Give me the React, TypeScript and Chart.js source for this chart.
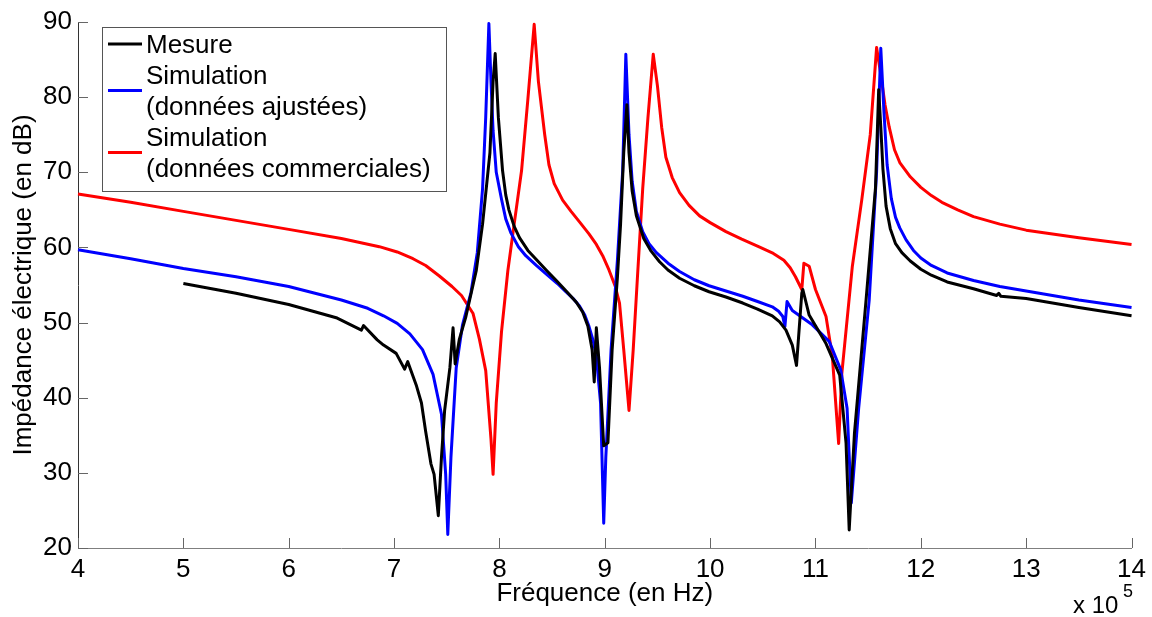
import React, { useEffect, useRef } from "react";
import { Chart, registerables } from "chart.js";

Chart.register(...registerables);

// Frequencies in units of 10^5 Hz, impedances in dB
const freqMesure = [5, 5.5, 6, 6.46, 6.69, 6.71, 6.84, 6.9, 7.02, 7.1, 7.13, 7.21, 7.26, 7.3, 7.35, 7.38, 7.42, 7.45, 7.48, 7.53, 7.56, 7.58, 7.62, 7.68, 7.78, 7.84, 7.91, 7.94, 7.96, 7.99, 8.03, 8.06, 8.09, 8.14, 8.19, 8.27, 8.35, 8.45, 8.54, 8.64, 8.73, 8.79, 8.84, 8.88, 8.9, 8.92, 8.95, 8.99, 9.03, 9.07, 9.12, 9.15, 9.18, 9.21, 9.23, 9.26, 9.3, 9.37, 9.44, 9.52, 9.6, 9.71, 9.85, 9.99, 10.15, 10.31, 10.45, 10.59, 10.66, 10.72, 10.78, 10.82, 10.87, 10.88, 10.94, 11.1, 11.23, 11.29, 11.32, 11.37, 11.48, 11.57, 11.6, 11.62, 11.64, 11.67, 11.71, 11.76, 11.82, 11.9, 12, 12.1, 12.25, 12.5, 12.72, 12.74, 12.76, 13, 13.5, 14];
const dbMesure = [55.2, 53.9, 52.4, 50.6, 49.0, 49.6, 47.7, 47.0, 45.9, 43.8, 44.8, 41.7, 39.3, 35.5, 31.2, 29.8, 24.3, 32.1, 38.3, 44.0, 49.3, 44.5, 47.8, 50.7, 56.9, 63.1, 72.6, 82.1, 85.8, 77.3, 70.2, 67.0, 65.0, 62.8, 61.3, 59.6, 58.4, 56.9, 55.6, 54.1, 52.7, 51.4, 49.5, 46.4, 42.1, 49.3, 44.0, 33.6, 34.0, 46.4, 56.0, 63.1, 72.6, 79.0, 72.6, 67.5, 64.2, 61.2, 59.5, 58.1, 57.0, 55.9, 54.9, 54.1, 53.4, 52.6, 51.8, 50.9, 50.1, 49.0, 47.0, 44.3, 53.9, 54.4, 51.0, 47.2, 43.0, 34.0, 22.4, 35.3, 53.0, 68.0, 81.0, 76.0, 70.5, 65.5, 62.5, 60.5, 59.3, 58.2, 57.1, 56.3, 55.4, 54.5, 53.6, 53.9, 53.5, 53.2, 52.0, 50.9];

const freqAjustee = [4, 4.5, 5, 5.5, 6, 6.5, 6.75, 6.9, 7.03, 7.15, 7.27, 7.37, 7.45, 7.49, 7.51, 7.54, 7.59, 7.65, 7.73, 7.79, 7.84, 7.87, 7.9, 7.92, 7.94, 7.97, 8.02, 8.06, 8.11, 8.18, 8.25, 8.35, 8.44, 8.55, 8.63, 8.7, 8.76, 8.81, 8.85, 8.89, 8.92, 8.96, 8.99, 9.01, 9.06, 9.12, 9.17, 9.2, 9.23, 9.26, 9.3, 9.36, 9.42, 9.49, 9.6, 9.71, 9.85, 9.99, 10.15, 10.31, 10.45, 10.59, 10.65, 10.69, 10.71, 10.73, 10.78, 10.97, 11.13, 11.24, 11.3, 11.34, 11.41, 11.51, 11.58, 11.62, 11.65, 11.68, 11.72, 11.76, 11.8, 11.86, 11.93, 12, 12.1, 12.25, 12.5, 12.75, 13, 13.5, 14];
const dbAjustee = [59.7, 58.5, 57.2, 56.1, 54.8, 53.0, 51.9, 50.9, 49.9, 48.5, 46.4, 43.1, 37.8, 29.8, 21.8, 32.1, 44.0, 49.7, 54.0, 59.3, 67.8, 77.3, 89.8, 82.1, 75.5, 70.0, 66.4, 63.8, 61.9, 60.1, 58.9, 57.6, 56.5, 55.2, 54.1, 53.2, 52.2, 51.0, 49.5, 47.6, 45.5, 39.3, 23.3, 32.1, 46.4, 58.3, 70.2, 85.7, 75.0, 68.8, 64.8, 62.1, 60.5, 59.3, 57.9, 56.8, 55.7, 54.9, 54.2, 53.5, 52.8, 52.1, 51.5, 50.8, 49.5, 52.8, 51.6, 49.7, 47.5, 43.7, 38.6, 26.0, 38.6, 53.0, 70.0, 86.5, 78.0, 71.0, 66.5, 64.0, 62.6, 61.0, 59.6, 58.6, 57.6, 56.6, 55.6, 54.8, 54.2, 53.0, 52.0];

const freqCommerciale = [4, 4.5, 5, 5.5, 6, 6.5, 6.86, 7.03, 7.18, 7.3, 7.43, 7.55, 7.64, 7.75, 7.81, 7.87, 7.92, 7.94, 7.97, 8.02, 8.08, 8.14, 8.21, 8.27, 8.33, 8.37, 8.43, 8.47, 8.52, 8.6, 8.68, 8.76, 8.85, 8.92, 8.98, 9.04, 9.1, 9.14, 9.18, 9.23, 9.27, 9.31, 9.36, 9.41, 9.46, 9.5, 9.54, 9.58, 9.64, 9.71, 9.8, 9.9, 10.0, 10.15, 10.3, 10.46, 10.6, 10.7, 10.76, 10.81, 10.87, 10.89, 10.94, 11.0, 11.1, 11.16, 11.22, 11.25, 11.35, 11.44, 11.52, 11.58, 11.62, 11.66, 11.7, 11.75, 11.8, 11.9, 12, 12.1, 12.2, 12.35, 12.5, 12.75, 13, 13.5, 14];
const dbCommerciale = [67.1, 66.0, 64.8, 63.6, 62.4, 61.2, 60.1, 59.4, 58.5, 57.6, 56.2, 54.8, 53.6, 51.2, 47.8, 43.6, 34.5, 29.8, 39.3, 48.8, 56.9, 63.1, 70.2, 79.7, 89.7, 82.1, 75.0, 71.0, 68.5, 66.3, 64.8, 63.4, 61.8, 60.4, 58.9, 57.0, 54.8, 52.6, 46.4, 38.3, 46.4, 56.0, 67.8, 77.3, 85.7, 81.5, 76.0, 72.0, 69.3, 67.3, 65.6, 64.2, 63.3, 62.1, 61.1, 60.1, 59.2, 58.3, 57.3, 56.1, 54.4, 57.9, 57.5, 54.4, 50.8, 45.5, 33.9, 43.2, 57.5, 66.4, 75.0, 86.6, 83.0, 79.0, 76.0, 73.0, 71.3, 69.4, 68.0, 66.9, 66.0, 65.0, 64.1, 63.1, 62.3, 61.3, 60.4];

const xTicks = [4, 5, 6, 7, 8, 9, 10, 11, 12, 13, 14];
const yTicks = [20, 30, 40, 50, 60, 70, 80, 90];

const seriesLabels = ["Mesure", "Simulation\n(données ajustées)", "Simulation\n(données commerciales)"];
const seriesColors = ["#000000", "#0000ff", "#ff0000"];

const xTitle = "Fréquence (en Hz)";
const yTitle = "Impédance électrique (en dB)";
const xExponent = "5";

const FONT = '"Liberation Sans", Arial, sans-serif';
const FS = 26;

const toPts = (xs: number[], ys: number[]) => xs.map((x, i) => ({ x, y: ys[i] }));

const decorPlugin = {
  id: "decor",
  afterDatasetsDraw(chart: any) {
    const ctx = chart.ctx as CanvasRenderingContext2D;
    const xs = chart.scales.x;
    const ys = chart.scales.y;
    const area = chart.chartArea;
    ctx.save();
    // inward ticks
    ctx.strokeStyle = "#666";
    ctx.lineWidth = 1;
    ctx.beginPath();
    yTicks.forEach((v) => {
      const p = Math.round(ys.getPixelForValue(v)) + 0.5;
      ctx.moveTo(area.left, p);
      ctx.lineTo(area.left + 10, p);
    });
    xTicks.forEach((v) => {
      const p = Math.round(xs.getPixelForValue(v)) + 0.5;
      ctx.moveTo(p, area.bottom);
      ctx.lineTo(p, area.bottom - 10);
    });
    ctx.stroke();

    // legend
    const bx = 102.5, by = 27.5, bw = 344, bh = 164;
    ctx.fillStyle = "#fff";
    ctx.fillRect(bx, by, bw, bh);
    ctx.strokeStyle = "#555";
    ctx.lineWidth = 1;
    ctx.strokeRect(bx, by, bw, bh);
    ctx.font = `${FS}px ${FONT}`;
    ctx.textBaseline = "middle";
    ctx.textAlign = "left";
    const lineH = 31;
    let y = 46;
    chart.data.datasets.forEach((ds: any) => {
      const lines = String(ds.label).split("\n");
      const mid = y + ((lines.length - 1) * lineH) / 2;
      ctx.strokeStyle = ds.borderColor;
      ctx.lineWidth = 3;
      ctx.beginPath();
      ctx.moveTo(108, mid - 2);
      ctx.lineTo(142, mid - 2);
      ctx.stroke();
      ctx.fillStyle = "#000";
      lines.forEach((t, i) => ctx.fillText(t, 146, y + i * lineH));
      y += lines.length * lineH;
    });

    // titles
    ctx.fillStyle = "#000";
    ctx.font = `${FS}px ${FONT}`;
    ctx.textAlign = "center";
    ctx.textBaseline = "middle";
    ctx.fillText(xTitle, (area.left + area.right) / 2, 594);
    ctx.save();
    ctx.translate(24, (area.top + area.bottom) / 2);
    ctx.rotate(-Math.PI / 2);
    ctx.fillText(yTitle, 0, 0);
    ctx.restore();

    // exponent
    ctx.textAlign = "left";
    ctx.font = `${FS - 2}px ${FONT}`;
    ctx.fillText("x 10", 1073, 606);
    ctx.font = `${FS - 8}px ${FONT}`;
    ctx.fillText(xExponent, 1123, 592);
    ctx.restore();
  },
};

export default function App() {
  const ref = useRef<HTMLCanvasElement | null>(null);
  useEffect(() => {
    if (!ref.current) return;
    const mk = (i: number, xs: number[], ys: number[]) => ({
      label: seriesLabels[i],
      data: toPts(xs, ys),
      borderColor: seriesColors[i],
      backgroundColor: seriesColors[i],
      borderWidth: 3,
      pointRadius: 0,
      tension: 0,
      borderJoinStyle: "round",
      fill: false,
      clip: 4,
    });
    const chart = new Chart(ref.current, {
      type: "line",
      data: {
        datasets: [
          mk(0, freqMesure, dbMesure),
          mk(1, freqAjustee, dbAjustee),
          mk(2, freqCommerciale, dbCommerciale),
        ],
      },
      options: {
        animation: false,
        responsive: false,
        parsing: false,
        layout: { padding: { top: 22, right: 19, left: 0, bottom: 0 } },
        plugins: { legend: { display: false }, tooltip: { enabled: false } },
        scales: {
          x: {
            type: "linear",
            min: 4,
            max: 14,
            afterBuildTicks: (s: any) => {
              s.ticks = xTicks.map((v) => ({ value: v }));
            },
            afterFit: (s: any) => {
              s.height = 69;
            },
            grid: { display: true, drawOnChartArea: false, drawTicks: false },
            border: { display: true, color: "#7f7f7f", width: 1 },
            ticks: {
              color: "#000",
              font: { family: FONT, size: FS },
              padding: 6,
              maxRotation: 0,
              autoSkip: false,
            },
          },
          y: {
            type: "linear",
            min: 20,
            max: 90,
            afterBuildTicks: (s: any) => {
              s.ticks = yTicks.map((v) => ({ value: v }));
            },
            afterFit: (s: any) => {
              s.width = 78;
            },
            grid: { display: true, drawOnChartArea: false, drawTicks: false },
            border: { display: true, color: "#333", width: 1 },
            ticks: {
              color: "#000",
              font: { family: FONT, size: FS },
              padding: 6,
              autoSkip: false,
            },
          },
        },
      },
      plugins: [decorPlugin],
    });
    return () => chart.destroy();
  }, []);
  return (
    <div style={{ position: "absolute", left: 0, top: 0, width: 1152, height: 617, background: "#fff" }}>
      <canvas ref={ref} width={1152} height={617} style={{ display: "block" }} />
    </div>
  );
}
